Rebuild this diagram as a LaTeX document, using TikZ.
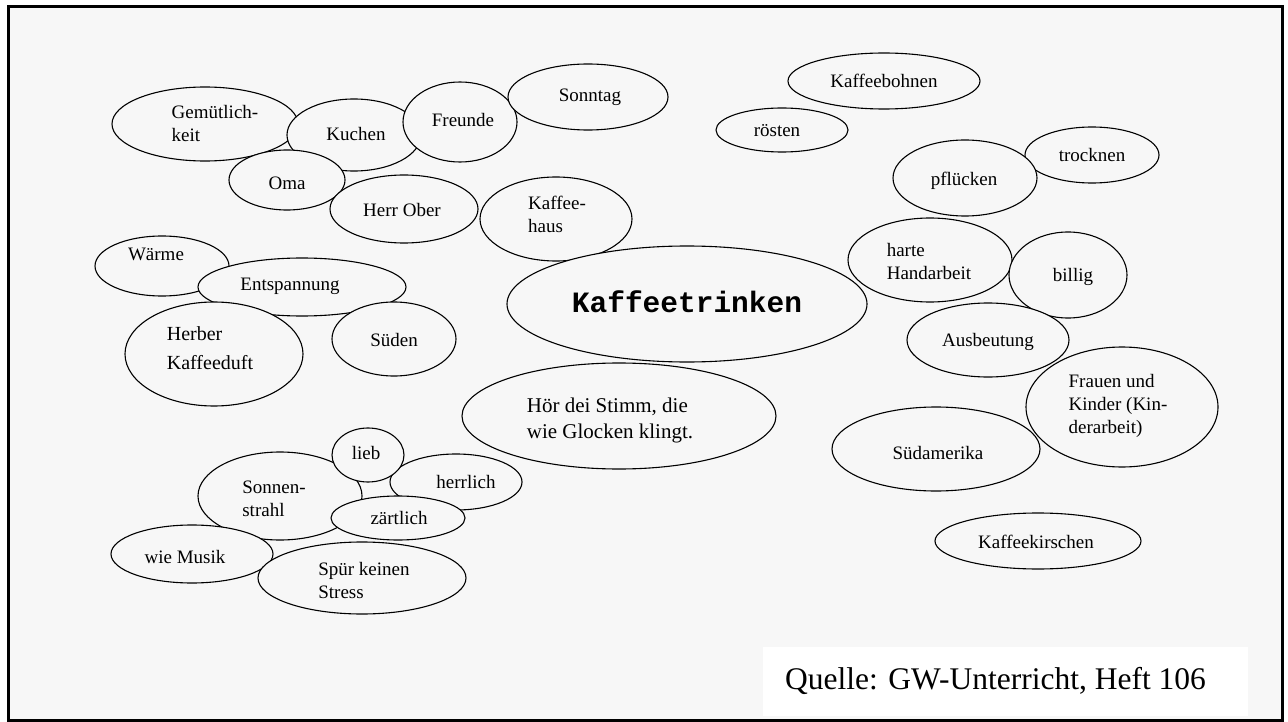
\documentclass[tikz,border=0pt]{standalone}
\usepackage{fontspec}
\setmainfont{Liberation Serif}
\newfontfamily\kmono{Liberation Mono}
\usetikzlibrary{shapes.geometric}
\definecolor{paper}{HTML}{F7F7F7}
\tikzset{
  bub/.style 2 args={draw=black, line width=1.1pt, fill=paper, ellipse, inner sep=0pt, outer sep=0pt,
    minimum width=#1pt, minimum height=#2pt},
  lbl/.style={inner sep=0pt, align=left, font=\fontsize{19}{23}\selectfont},
  lblw/.style={inner sep=0pt, align=left, font=\fontsize{20}{29}\selectfont},
}
\begin{document}
\begin{tikzpicture}[x=1pt,y=-1pt]
\useasboundingbox (0,0) rectangle (1288,722);
\fill[white] (0,0) rectangle (1288,722);
\fill[paper] (8,7) rectangle (1282,720);

% top left cluster
\node[bub={186}{74}] (gem) at (205,124) {};
\node[lbl] (gemT) at (215,124) {Gemütlich-\\keit};
\node[bub={134}{72}] (kuchen) at (354,135) {};
\node[lbl] (kuchenT) at (356,134) {Kuchen};
\node[bub={114}{80}] (freunde) at (460,122) {};
\node[lbl] (freundeT) at (463,120) {Freunde};
\node[bub={160}{66}] (sonntag) at (588,97) {};
\node[lbl] (sonntagT) at (590,97) {Sonntag};
\node[bub={116}{60}] (oma) at (287,180) {};
\node[lbl] (omaT) at (287,183) {Oma};
\node[bub={148}{68}] (herr) at (404,209) {};
\node[lbl] (herrT) at (402,210) {Herr Ober};
\node[bub={152}{84}] (khaus) at (556,219) {};
\node[lbl] (khausT) at (557,214) {Kaffee-\\haus};

% middle left
\node[bub={134}{60}] (waerme) at (162,266) {};
\node[lbl] (waermeT) at (156,254) {Wärme};
\node[bub={208}{58}] (entsp) at (302,287) {};
\node[lbl] (entspT) at (290,286) {Entspannung};
\node[bub={178}{104}] (herber) at (214,354) {};
\node[lblw] (herberT) at (210,348) {Herber\\Kaffeeduft};
\node[bub={124}{74}] (sueden) at (394,339) {};
\node[lbl] (suedenT) at (394,340) {Süden};

% center
\node[bub={360}{116}] (kt) at (687,304) {};
\node[inner sep=0pt, font=\kmono\bfseries\fontsize{29.5}{34}\selectfont] (ktT) at (687,302) {Kaffeetrinken};
\node[bub={314}{106}] (hoer) at (619,416) {};
\node[inner sep=0pt, align=left, font=\fontsize{21}{26}\selectfont] (hoerT) at (610,420) {Hör dei Stimm, die\\wie Glocken klingt.};

% bottom left cluster
\node[bub={164}{88}] (sonnen) at (280,496) {};
\node[lbl] (sonnenT) at (274,499) {Sonnen-\\strahl};
\node[bub={132}{56}] (herrl) at (456,482) {};
\node[lbl] (herrlT) at (466,482) {herrlich};
\node[bub={72}{54}] (lieb) at (368,455) {};
\node[lbl] (liebT) at (366,453) {lieb};
\node[bub={134}{44}] (zaert) at (398,518) {};
\node[lbl] (zaertT) at (399,518) {zärtlich};
\node[bub={162}{58}] (musik) at (192,554) {};
\node[lbl] (musikT) at (185,557) {wie Musik};
\node[bub={208}{72}] (spuer) at (362,578) {};
\node[lbl] (spuerT) at (364,580) {Spür keinen\\Stress};

% right side
\node[bub={192}{56}] (bohnen) at (884,81) {};
\node[lbl] (bohnenT) at (884,81) {Kaffeebohnen};
\node[bub={132}{44}] (roesten) at (782,130) {};
\node[lbl] (roestenT) at (777,131) {rösten};
\node[bub={134}{56}] (trock) at (1092,155) {};
\node[lbl] (trockT) at (1092,155) {trocknen};
\node[bub={144}{76}] (pflue) at (965,178) {};
\node[lbl] (pflueT) at (964,181) {pflücken};
\node[bub={164}{84}] (harte) at (930,260) {};
\node[lbl] (harteT) at (929,262) {harte\\Handarbeit};
\node[bub={118}{86}] (billig) at (1068,275) {};
\node[lbl] (billigT) at (1073,277) {billig};
\node[bub={162}{74}] (ausb) at (988,340) {};
\node[lbl] (ausbT) at (988,342) {Ausbeutung};
\node[bub={208}{84}] (suedam) at (936,449) {};
\node[lbl] (suedamT) at (938,453) {Südamerika};
\node[bub={192}{120}] (frauen) at (1122,407) {};
\node[lbl] (frauenT) at (1118,406) {Frauen und\\Kinder (Kin-\\derarbeit)};
\node[bub={206}{56}] (kirsch) at (1038,541) {};
\node[lbl] (kirschT) at (1036,542) {Kaffeekirschen};

% source box
\fill[white] (763,647) rectangle (1248,716);
\node[anchor=base west, inner sep=0pt, font=\fontsize{31.5}{36}\selectfont] (quelle) at (785,689) {Quelle: GW-Unterricht, Heft 106};

\draw[line width=3pt] (8,7) rectangle (1282,720);
\end{tikzpicture}
\end{document}
